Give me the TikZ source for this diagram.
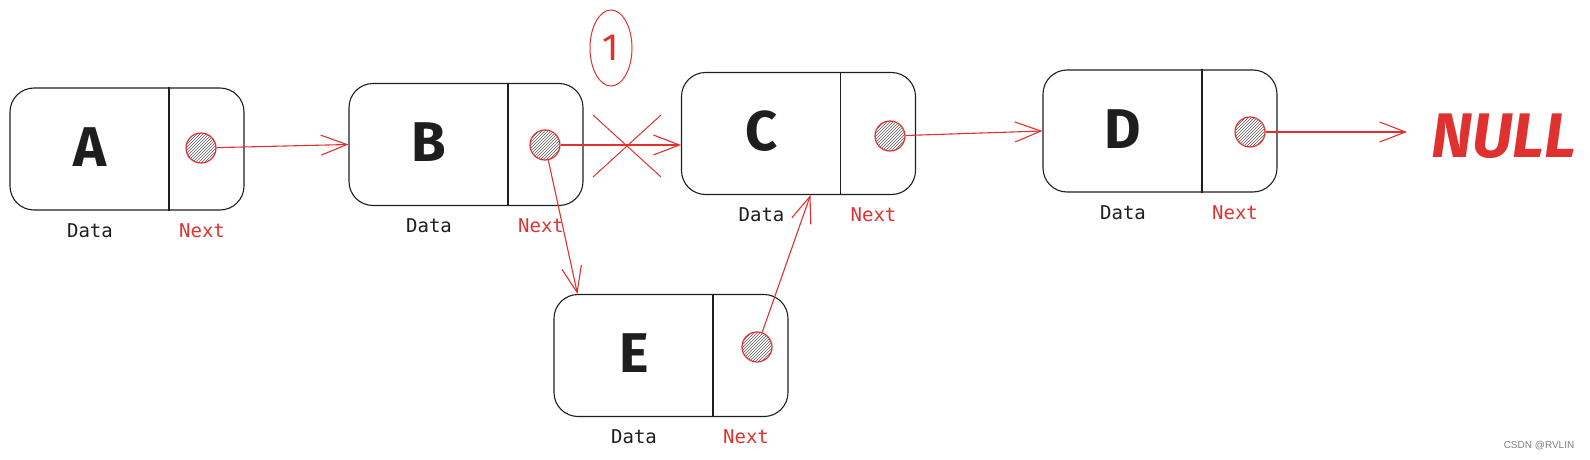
\documentclass[tikz,border=0pt]{standalone}
\usepackage{fontspec}
\setmainfont{Fira Sans}
\setmonofont{DejaVu Sans Mono}
\newfontfamily\markfont{Liberation Sans}
\usetikzlibrary{patterns,arrows.meta,shapes.geometric}
\definecolor{figred}{HTML}{E03131}
\definecolor{figink}{HTML}{1E1E1E}
\tikzset{
  listbox/.style={draw=figink,line width=1.1pt,rounded corners=24pt,minimum width=234pt,minimum height=122pt,inner sep=0pt},
  ptrdot/.style={circle,draw=figred,line width=1.2pt,minimum size=30pt,inner sep=0pt,pattern=north east lines,pattern color=gray!70!black},
  link/.style={draw=figred,line width=1.1pt,-{Straight Barb[length=26pt,width=20pt,line width=1.1pt]}},
  keytext/.style={font=\fontsize{56}{56}\selectfont\bfseries,text=figink},
  fieldtext/.style={font=\ttfamily\fontsize{19}{19}\selectfont,inner sep=0pt}
}

\begin{document}
\begin{tikzpicture}[x=1pt,y=-1pt]
  \useasboundingbox (0,0) rectangle (1590,460);
  \foreach \nm/\cx/\cy/\px/\py in {A/127/149/201/148,B/466/144.5/545/145,C/798.5/133.5/890/136,D/1160/131/1250/132,E/671/355.5/757/347} {
    \node[listbox] (\nm) at (\cx,\cy) {};
    \draw[figink,line width=1.1pt] ([xshift=42pt]\nm.north) -- ([xshift=42pt]\nm.south);
    \node[keytext] (\nm-key) at ([xshift=-37pt,yshift=2pt]\nm.center) {\nm};
    \node[ptrdot] (\nm-p) at (\px,\py) {};
    \node[fieldtext,text=figink] (\nm-data) at ([xshift=-37pt,yshift=-20pt]\nm.south) {Data};
    \node[fieldtext,text=figred] (\nm-next) at ([xshift=75pt,yshift=-20pt]\nm.south) {Next};
  }
  \node[ellipse,draw=figred,line width=1pt,minimum width=42pt,minimum height=76pt,inner sep=0pt,text=figred,font=\fontsize{38}{38}\selectfont] (step1) at (611,48) {1};
  \node[text=figred,font=\fontsize{63}{63}\selectfont\bfseries\itshape,inner sep=0pt] (null) at (1504,136) {NULL};
  \draw[link] (A-p) -- (B.west);
  \draw[link] (B-p) -- (C.west |- B-p);
  \draw[link] (B-p) -- ([xshift=24pt]E.north west);
  \draw[link] (E-p) -- ([xshift=12pt]C.south);
  \draw[link] (C-p) -- (D.west);
  \draw[link,shorten >=24pt] (D-p) -- (D-p -| null.west);
  \coordinate (cut) at (627,146);
  \draw[figred,line width=1pt] ([shift={(-34pt,31pt)}]cut) -- ([shift={(34pt,-31pt)}]cut);
  \draw[figred,line width=1pt] ([shift={(-34pt,-31pt)}]cut) -- ([shift={(34pt,31pt)}]cut);
  \node[text=gray,font=\markfont\fontsize{10}{10}\selectfont] (mark) at (1539,446) {CSDN @RVLIN};
\end{tikzpicture}
\end{document}
